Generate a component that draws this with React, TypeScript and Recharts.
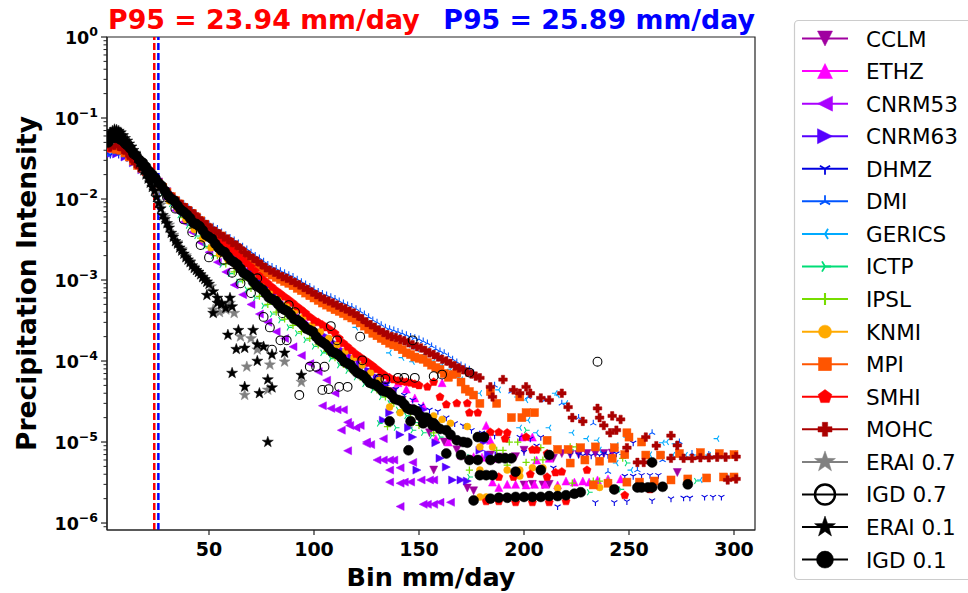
import React from 'react';
import { ScatterChart, Scatter, XAxis, YAxis, ReferenceLine, ReferenceArea } from 'recharts';

type Pt = [number, number];
type Kind = 'v' | '^' | '<' | '>' | '1' | '2' | '3' | '4' | '+' | 'o' | 's' | 'p' | 'P' | '*' | 'O';

const xTicks = [50, 100, 150, 200, 250, 300];
const yMajor = [1e-6, 1e-5, 1e-4, 1e-3, 1e-2, 1e-1, 1];
const yExpLabels = ['\u22126', '\u22125', '\u22124', '\u22123', '\u22122', '\u22121', '0'];
const yMinor = [9e-7].concat(
  [1e-6, 1e-5, 1e-4, 1e-3, 1e-2, 1e-1].flatMap((d) => [2, 3, 4, 5, 6, 7, 8, 9].map((m) => m * d))
);
const p95Values = [23.94, 25.89];
const p95Colors = ['#ff0000', '#0000ff'];

const CCLM: Pt[] = [[2,4.5e-2],[6,5.0e-2],[10,4.3e-2],[14,3.3e-2],[18,2.6e-2],[22,2.1e-2],[26,1.62e-2],[30,1.23e-2],[34,9.3e-3],[38,7.2e-3],[42,5.6e-3],[46,4.4e-3],[50,3.5e-3],[54,2.75e-3],[58,2.2e-3],[62,1.74e-3],[66,1.38e-3],[70,1.1e-3],[74,8.7e-4],[78,6.9e-4],[82,5.6e-4],[86,4.7e-4],[90,3.8e-4],[94,3.2e-4],[98,2.6e-4],[102,2.2e-4],[106,1.82e-4],[110,1.51e-4],[114,1.26e-4],[118,1.05e-4],[122,8.7e-5],[126,7.2e-5],[130,6.0e-5],[134,5.0e-5],[138,4.2e-5],[142,3.3e-5],[146,2.6e-5],[150,2.0e-5],[155,1.3e-5],[157,4.5e-6],[162,1.0e-5],[168,8.0e-6],[173,2.7e-6],[176,2.5e-6],[184,6.9e-6],[190,6.5e-6],[196,6.6e-6],[200,2.95e-6],[204,3.0e-6],[209,2.95e-6],[212,3.0e-6],[200,7.9e-6],[214,6.3e-6],[218,7.2e-6],[222,7.0e-6],[226,7.0e-6],[230,7.2e-6],[234,7.2e-6],[238,7.2e-6],[242,7.3e-6],[273,4.2e-6]];

const ETHZ: Pt[] = [[4,5.0e-2],[8,4.7e-2],[12,3.8e-2],[16,3.0e-2],[20,2.45e-2],[24,1.95e-2],[28,1.48e-2],[32,1.1e-2],[36,8.3e-3],[40,6.5e-3],[44,5.0e-3],[48,4.0e-3],[52,3.2e-3],[56,2.5e-3],[60,2.0e-3],[64,1.58e-3],[68,1.26e-3],[72,1.0e-3],[76,7.9e-4],[80,6.3e-4],[84,5.1e-4],[88,4.3e-4],[92,3.5e-4],[96,3.0e-4],[100,2.5e-4],[104,2.1e-4],[108,1.74e-4],[112,1.48e-4],[116,1.26e-4],[120,1.1e-4],[124,9.5e-5],[128,8.3e-5],[132,7.2e-5],[136,6.3e-5],[140,5.4e-5],[144,4.5e-5],[148,3.5e-5],[152,2.8e-5],[156,2.0e-5],[158,1.1e-5],[161,5.4e-5],[164,1.0e-5],[166,1.15e-5],[170,6.9e-6],[176,6.6e-6],[180,6.5e-6],[184,1.05e-5],[187,6.3e-6],[182,1.6e-5],[199,1.15e-5],[204,1.15e-5],[206,6.0e-6],[212,6.3e-6],[185,3.2e-6],[188,2.75e-6],[192,3.0e-6],[196,3.0e-6],[201,2.95e-6],[205,3.0e-6],[210,3.0e-6],[216,2.95e-6],[220,3.3e-6],[224,3.2e-6],[228,3.3e-6],[231,3.2e-6],[235,3.4e-6],[240,3.5e-6],[246,3.5e-6]];

const CNRM53: Pt[] = [[2,4.2e-2],[6,4.4e-2],[10,3.7e-2],[14,3.0e-2],[18,2.3e-2],[22,1.78e-2],[26,1.35e-2],[30,1.0e-2],[34,7.2e-3],[38,5.2e-3],[42,3.9e-3],[46,2.9e-3],[50,2.2e-3],[54,1.66e-3],[58,1.26e-3],[62,8.7e-4],[66,6.6e-4],[70,5.0e-4],[74,3.8e-4],[78,3.0e-4],[82,2.3e-4],[86,1.9e-4],[90,1.5e-4],[94,1.17e-4],[98,9.3e-5],[102,7.4e-5],[106,5.8e-5],[110,4.0e-5],[114,2.5e-5],[104,2.8e-5],[108,2.6e-5],[111,2.5e-5],[116,1.75e-5],[117,1.6e-5],[120,1.5e-5],[122,1.6e-5],[113,1.4e-5],[116,7.8e-6],[125,9.5e-6],[127,9.3e-6],[130,6.0e-6],[133,6.0e-6],[136,6.0e-6],[138,6.0e-6],[136,4.5e-6],[141,4.8e-6],[147,5.6e-6],[136,3.2e-6],[141,3.1e-6],[143,3.2e-6],[146,3.2e-6],[151,3.4e-6],[155,3.4e-6],[157,3.4e-6],[141,1.6e-6],[152,1.7e-6],[154,1.7e-6],[157,1.7e-6],[160,1.8e-6],[165,1.8e-6],[125,1.0e-5],[133,1.1e-5]];

const CNRM63: Pt[] = [[2,3.5e-2],[6,3.6e-2],[10,3.3e-2],[14,2.8e-2],[18,2.3e-2],[22,2.0e-2],[26,1.58e-2],[30,1.2e-2],[34,9.3e-3],[38,7.4e-3],[42,5.9e-3],[46,4.8e-3],[50,3.9e-3],[54,3.2e-3],[58,2.6e-3],[62,2.1e-3],[66,1.7e-3],[70,1.32e-3],[74,1.0e-3],[78,7.9e-4],[82,6.3e-4],[86,5.0e-4],[90,4.0e-4],[94,3.3e-4],[98,2.75e-4],[102,2.3e-4],[106,2.0e-4],[110,1.66e-4],[114,1.32e-4],[118,1.1e-4],[122,9.1e-5],[126,7.6e-5],[130,6.3e-5],[134,5.0e-5],[138,3.5e-5],[133,1.86e-5],[136,2.3e-5],[141,1.23e-5],[147,1.15e-5],[149,4.5e-6],[152,2.5e-5],[158,9.8e-6],[160,6.3e-6],[163,4.9e-6],[166,3.4e-6],[170,3.4e-6],[173,3.3e-6],[179,7.9e-6],[183,7.0e-6],[188,6.8e-6],[192,6.5e-6],[181,1.0e-5],[145,1.5e-5],[155,1.8e-5]];

const DHMZ: Pt[] = [[3,3.5e-2],[7,3.5e-2],[11,3.2e-2],[15,2.6e-2],[19,2.2e-2],[23,1.86e-2],[27,1.48e-2],[31,1.12e-2],[35,8.9e-3],[39,7.1e-3],[43,5.6e-3],[47,4.6e-3],[51,3.7e-3],[55,3.0e-3],[59,2.5e-3],[63,2.0e-3],[67,1.62e-3],[71,1.26e-3],[75,9.5e-4],[79,7.6e-4],[83,6.0e-4],[87,4.8e-4],[91,3.8e-4],[95,3.2e-4],[99,2.6e-4],[103,2.2e-4],[107,1.9e-4],[111,1.58e-4],[115,1.26e-4],[119,1.07e-4],[123,8.9e-5],[127,7.6e-5],[131,6.3e-5],[135,5.2e-5],[139,4.5e-5],[143,3.8e-5],[147,3.3e-5],[151,2.8e-5],[155,2.5e-5],[159,2.4e-5],[163,2.0e-5],[167,1.7e-5],[171,1.6e-5],[175,1.4e-5],[180,1.3e-5],[186,1.2e-5],[192,1.1e-5],[198,1.15e-5],[203,1.1e-5],[206,9.0e-6],[208,1.15e-5],[214,4.8e-6],[216,1.6e-6],[222,7.0e-6],[226,7.0e-6],[228,6.8e-6],[232,6.8e-6],[236,6.8e-6],[240,6.9e-6],[234,1.8e-6],[238,7.2e-6],[243,1.8e-6],[244,7.2e-6],[249,1.85e-6],[252,9.8e-6],[248,3.8e-6],[252,3.8e-6],[256,3.9e-6],[260,3.9e-6],[264,3.9e-6],[261,1.9e-6],[270,2.0e-6],[276,2.05e-6],[279,2.05e-6],[286,2.1e-6],[290,2.1e-6],[294,2.1e-6],[200,7.5e-6]];

const DMI: Pt[] = [[2,3.5e-2],[6,3.8e-2],[10,3.4e-2],[14,2.9e-2],[18,2.4e-2],[22,2.0e-2],[26,1.6e-2],[30,1.26e-2],[34,1.02e-2],[38,8.7e-3],[42,7.2e-3],[46,5.9e-3],[50,4.9e-3],[54,4.3e-3],[58,3.6e-3],[62,3.1e-3],[66,2.6e-3],[70,2.2e-3],[74,1.86e-3],[78,1.55e-3],[82,1.38e-3],[86,1.23e-3],[90,1.1e-3],[94,9.5e-4],[98,8.3e-4],[102,7.2e-4],[106,6.5e-4],[110,5.9e-4],[114,5.2e-4],[118,4.7e-4],[122,4.1e-4],[126,3.5e-4],[130,3.0e-4],[134,2.6e-4],[138,2.4e-4],[142,2.2e-4],[146,2.0e-4],[150,1.86e-4],[154,1.66e-4],[158,1.41e-4],[162,1.26e-4],[166,1.05e-4],[170,8.9e-5],[174,7.9e-5],[178,6.3e-5],[186,5.0e-5],[194,4.2e-5],[202,3.6e-5],[210,3.3e-5],[218,3.0e-5],[226,2.0e-5],[233,1.7e-5],[240,4.3e-6],[254,4.5e-6],[261,1.3e-5],[266,6.0e-6],[274,1.0e-5],[280,7.2e-6],[288,7.0e-6],[292,7.0e-6],[297,3.6e-6]];
const DMI_MID: Pt[] = [[4,3.7e-2],[8,3.6e-2],[12,3.1e-2],[16,2.65e-2],[20,2.2e-2],[24,1.8e-2],[28,1.42e-2],[32,1.13e-2],[36,9.4e-3],[40,7.9e-3],[44,6.5e-3],[48,5.4e-3],[52,4.6e-3],[56,3.9e-3],[60,3.35e-3],[64,2.85e-3],[68,2.4e-3],[72,2.0e-3],[76,1.7e-3],[80,1.46e-3],[84,1.3e-3],[88,1.16e-3],[92,1.02e-3],[96,8.9e-4],[100,7.7e-4],[104,6.8e-4],[108,6.2e-4],[112,5.5e-4],[116,4.9e-4],[120,4.4e-4],[124,3.8e-4],[128,3.2e-4],[132,2.8e-4],[136,2.5e-4],[140,2.3e-4],[144,2.1e-4],[148,1.93e-4],[152,1.76e-4],[156,1.53e-4],[160,1.33e-4],[164,1.15e-4],[168,9.7e-5],[172,8.4e-5],[176,7.1e-5]];

const GERICS: Pt[] = [[5,4.4e-2],[9,4.0e-2],[13,3.2e-2],[17,2.5e-2],[21,2.1e-2],[25,1.7e-2],[29,1.32e-2],[33,1.05e-2],[37,8.5e-3],[41,7.1e-3],[45,5.9e-3],[49,4.8e-3],[53,4.0e-3],[57,3.4e-3],[61,2.8e-3],[65,2.4e-3],[69,2.0e-3],[73,1.66e-3],[77,1.38e-3],[81,1.2e-3],[85,1.07e-3],[89,9.5e-4],[93,8.3e-4],[97,7.4e-4],[101,6.3e-4],[105,5.6e-4],[109,5.0e-4],[113,4.5e-4],[117,4.0e-4],[121,3.5e-4],[125,3.0e-4],[129,2.6e-4],[133,2.2e-4],[137,2.0e-4],[141,1.78e-4],[145,1.58e-4],[149,1.41e-4],[153,1.2e-4],[157,1.0e-4],[161,8.9e-5],[165,7.9e-5],[169,6.3e-5],[120,2.6e-4],[130,1.9e-4],[136,1.26e-4],[142,1.1e-4],[147,9.8e-5],[154,9.5e-5],[170,5.9e-5],[178,6.2e-5],[179,4.0e-5],[188,4.4e-5],[197,3.6e-5],[201,3.3e-5],[198,1.5e-5],[202,1.86e-5],[206,1.3e-5],[212,1.5e-5],[215,4.0e-5],[216,3.8e-5],[220,3.0e-5],[223,1.3e-5],[230,1.1e-5],[235,1.05e-5],[236,8.0e-6],[244,9.1e-6],[244,5.5e-6],[247,7.0e-6],[249,1.15e-5],[251,4.5e-6],[260,7.0e-6],[266,9.8e-6],[268,1.0e-5],[266,6.9e-6],[271,6.9e-6],[272,9.5e-6],[277,6.9e-6],[283,6.9e-6],[284,3.4e-6],[288,6.9e-6],[292,1.1e-5],[300,7.2e-6]];

const ICTP: Pt[] = [[4,5.5e-2],[8,5.0e-2],[12,4.0e-2],[16,3.0e-2],[20,2.2e-2],[24,1.66e-2],[28,1.2e-2],[32,8.7e-3],[36,6.3e-3],[40,4.7e-3],[44,3.5e-3],[48,2.6e-3],[52,2.0e-3],[56,1.55e-3],[60,1.2e-3],[64,9.5e-4],[68,7.6e-4],[72,6.0e-4],[76,4.8e-4],[80,3.8e-4],[84,3.2e-4],[88,2.6e-4],[92,2.2e-4],[96,1.82e-4],[100,1.51e-4],[104,1.26e-4],[108,1.07e-4],[112,8.9e-5],[116,7.6e-5],[120,6.3e-5],[124,5.2e-5],[128,4.4e-5],[132,3.6e-5],[136,3.0e-5],[140,2.5e-5],[144,2.1e-5],[148,1.74e-5],[131,1.7e-5],[139,1.5e-5],[147,1.4e-5],[152,1.3e-5],[156,1.2e-5],[160,1.15e-5],[173,9.8e-6],[174,6.5e-6],[174,3.7e-6],[201,1.4e-5],[222,8.0e-6],[231,2.4e-6],[246,2.6e-6],[249,5.5e-6],[282,3.3e-6]];

const IPSL: Pt[] = [[2,5.0e-2],[6,5.6e-2],[10,4.7e-2],[14,3.5e-2],[18,2.7e-2],[22,2.0e-2],[26,1.5e-2],[30,1.1e-2],[34,7.9e-3],[38,5.9e-3],[42,4.4e-3],[46,3.3e-3],[50,2.5e-3],[54,2.0e-3],[58,1.58e-3],[62,1.26e-3],[66,1.0e-3],[70,7.9e-4],[74,6.3e-4],[78,5.0e-4],[82,4.0e-4],[86,3.3e-4],[90,2.75e-4],[94,2.3e-4],[98,1.9e-4],[102,1.58e-4],[106,1.32e-4],[110,1.1e-4],[114,9.1e-5],[118,7.6e-5],[122,6.3e-5],[126,5.2e-5],[130,4.4e-5],[134,3.6e-5],[138,3.0e-5],[142,2.5e-5],[146,2.0e-5],[135,1.55e-5],[150,1.6e-5],[157,1.3e-5],[166,1.15e-5],[174,4.5e-6],[187,7.9e-6],[190,7.9e-6],[193,1.0e-5],[197,1.0e-5],[192,5.2e-6],[201,5.6e-6],[205,6.0e-6],[209,6.0e-6],[208,8.5e-6],[222,8.7e-6],[225,8.7e-6],[223,3.1e-6],[233,3.3e-6],[236,3.3e-6],[240,3.3e-6],[247,6.3e-6]];

const KNMI: Pt[] = [[3,5.4e-2],[7,5.2e-2],[11,4.4e-2],[15,3.3e-2],[19,2.5e-2],[23,1.86e-2],[27,1.35e-2],[31,9.5e-3],[35,7.6e-3],[39,5.6e-3],[43,4.2e-3],[47,3.2e-3],[51,2.5e-3],[55,2.1e-3],[59,1.78e-3],[63,1.48e-3],[67,1.23e-3],[71,1.02e-3],[75,8.7e-4],[79,7.2e-4],[83,6.0e-4],[87,5.0e-4],[91,4.2e-4],[95,3.5e-4],[99,2.75e-4],[103,2.3e-4],[107,1.9e-4],[111,1.58e-4],[115,1.32e-4],[119,1.1e-4],[123,8.9e-5],[127,7.2e-5],[131,5.8e-5],[135,4.4e-5],[139,3.3e-5],[143,2.8e-5],[147,2.5e-5],[136,2.7e-5],[141,2.3e-5],[150,2.1e-5],[157,2.1e-5],[161,1.9e-5],[165,1.7e-5],[173,1.55e-5],[179,8.7e-6],[185,8.7e-6],[179,4.5e-6],[192,4.5e-6],[198,4.5e-6],[204,4.8e-6],[209,4.8e-6],[198,3.8e-6],[216,2.7e-6],[236,2.75e-6],[179,2.1e-6],[182,2.1e-6]];

const MPI: Pt[] = [[4,4.2e-2],[8,4.0e-2],[12,3.3e-2],[16,2.6e-2],[20,2.2e-2],[24,1.78e-2],[28,1.38e-2],[32,1.07e-2],[36,8.7e-3],[40,7.2e-3],[44,6.0e-3],[48,4.9e-3],[52,4.0e-3],[56,3.5e-3],[60,2.9e-3],[64,2.4e-3],[68,2.0e-3],[72,1.62e-3],[76,1.32e-3],[80,1.15e-3],[84,1.02e-3],[88,9.1e-4],[92,7.9e-4],[96,6.9e-4],[100,6.0e-4],[104,5.2e-4],[108,4.6e-4],[112,4.1e-4],[116,3.6e-4],[120,3.2e-4],[124,2.7e-4],[128,2.2e-4],[132,1.9e-4],[136,1.66e-4],[140,1.5e-4],[144,1.26e-4],[148,1.12e-4],[152,1.05e-4],[156,8.9e-5],[160,7.9e-5],[164,6.3e-5],[168,7.1e-5],[172,4.5e-5],[176,3.8e-5],[179,3.0e-5],[184,4.2e-5],[187,3.0e-5],[194,2.0e-5],[198,3.6e-5],[199,2.0e-5],[201,2.3e-5],[205,2.3e-5],[211,1.05e-5],[216,8.1e-6],[221,8.1e-6],[222,5.5e-6],[227,8.5e-6],[229,6.0e-6],[234,8.7e-6],[236,5.8e-6],[242,6.3e-6],[243,8.5e-6],[248,7.0e-6],[249,1.3e-5],[250,1.15e-5],[256,1.0e-5],[258,6.9e-6],[265,6.9e-6],[274,7.2e-6],[284,7.4e-6],[293,7.2e-6],[300,7.0e-6],[233,2.95e-6],[240,3.1e-6],[249,3.2e-6],[255,3.2e-6],[262,3.3e-6],[270,3.4e-6],[278,3.5e-6],[287,3.6e-6],[295,3.7e-6],[300,3.7e-6]];
const MPI_MID: Pt[] = [[6,4.1e-2],[10,3.7e-2],[14,2.95e-2],[18,2.4e-2],[22,2.0e-2],[26,1.55e-2],[30,1.2e-2],[34,9.6e-3],[38,7.9e-3],[42,6.6e-3],[46,5.4e-3],[50,4.4e-3],[54,3.7e-3],[58,3.2e-3],[62,2.65e-3],[66,2.2e-3],[70,1.8e-3],[74,1.46e-3],[78,1.22e-3],[82,1.08e-3],[86,9.6e-4],[90,8.5e-4],[94,7.4e-4],[98,6.4e-4],[102,5.6e-4],[106,4.9e-4],[110,4.3e-4],[114,3.85e-4],[118,3.4e-4],[122,2.95e-4],[126,2.45e-4],[130,2.05e-4],[134,1.78e-4],[138,1.58e-4],[142,1.38e-4],[146,1.2e-4],[150,1.08e-4],[154,9.6e-5],[158,8.3e-5],[162,7.0e-5],[166,6.8e-5],[170,5.5e-5],[174,4.2e-5]];

const SMHI: Pt[] = [[2,4.2e-2],[6,4.7e-2],[10,4.0e-2],[14,3.0e-2],[18,2.4e-2],[22,1.95e-2],[26,1.55e-2],[30,1.17e-2],[34,9.3e-3],[38,7.6e-3],[42,6.0e-3],[46,4.9e-3],[50,3.9e-3],[54,3.2e-3],[58,2.7e-3],[62,2.2e-3],[66,1.78e-3],[70,1.45e-3],[74,1.12e-3],[78,9.1e-4],[82,7.4e-4],[86,6.2e-4],[90,5.2e-4],[94,4.3e-4],[98,3.5e-4],[102,3.0e-4],[106,2.6e-4],[110,2.2e-4],[114,1.66e-4],[118,1.35e-4],[122,1.12e-4],[126,9.5e-5],[130,7.9e-5],[134,6.6e-5],[138,5.9e-5],[142,5.6e-5],[146,5.4e-5],[150,5.0e-5],[154,4.8e-5],[157,5.5e-5],[160,3.6e-5],[163,2.9e-5],[168,3.0e-5],[173,3.0e-5],[174,2.3e-5],[178,2.3e-5],[184,1.32e-5],[188,1.32e-5],[192,1.3e-5],[191,1.1e-5],[201,1.15e-5],[204,8.0e-6],[206,8.0e-6],[211,7.2e-6],[188,3.7e-6],[195,3.7e-6],[203,4.0e-6],[211,3.7e-6],[215,4.2e-6],[218,4.3e-6],[230,4.5e-6],[176,1.9e-6],[182,1.85e-6],[188,1.85e-6],[196,1.8e-6],[204,1.8e-6],[212,1.8e-6],[220,1.85e-6],[260,2.6e-6],[248,2.2e-6]];
const SMHI_MID: Pt[] = [[4,4.5e-2],[8,4.4e-2],[12,3.5e-2],[16,2.7e-2],[20,2.15e-2],[24,1.75e-2],[28,1.35e-2],[32,1.05e-2],[36,8.4e-3],[40,6.8e-3],[44,5.4e-3],[48,4.4e-3],[52,3.5e-3],[56,2.95e-3],[60,2.45e-3],[64,2.0e-3],[68,1.6e-3],[72,1.28e-3],[76,1.0e-3],[80,8.2e-4],[84,6.8e-4],[88,5.7e-4],[92,4.7e-4],[96,3.9e-4],[100,3.2e-4],[104,2.8e-4],[108,2.4e-4],[112,1.9e-4],[116,1.5e-4],[120,1.22e-4],[124,1.03e-4],[128,8.7e-5],[132,7.2e-5],[136,6.2e-5],[140,5.7e-5],[144,5.5e-5],[148,5.2e-5]];

const MOHC: Pt[] = [[3,4.4e-2],[7,4.5e-2],[11,3.7e-2],[15,2.75e-2],[19,2.2e-2],[23,1.86e-2],[27,1.48e-2],[31,1.15e-2],[35,9.3e-3],[39,7.8e-3],[43,6.5e-3],[47,5.2e-3],[51,4.3e-3],[55,3.7e-3],[59,3.2e-3],[63,2.7e-3],[67,2.2e-3],[71,1.86e-3],[75,1.55e-3],[79,1.32e-3],[83,1.17e-3],[87,1.05e-3],[91,9.3e-4],[95,8.1e-4],[99,7.1e-4],[103,6.2e-4],[107,5.5e-4],[111,4.9e-4],[115,4.4e-4],[119,3.9e-4],[123,3.3e-4],[127,2.8e-4],[131,2.4e-4],[135,2.1e-4],[139,1.95e-4],[143,1.78e-4],[147,1.58e-4],[151,1.45e-4],[155,1.26e-4],[159,1.12e-4],[163,1.0e-4],[167,8.7e-5],[171,7.8e-5],[175,6.9e-5],[179,6.2e-5],[184,4.8e-5],[185,3.6e-5],[190,5.9e-5],[195,4.4e-5],[198,4.0e-5],[201,4.8e-5],[203,4.0e-5],[208,3.5e-5],[212,3.3e-5],[218,4.0e-5],[221,2.7e-5],[223,2.0e-5],[228,1.8e-5],[235,2.6e-5],[236,2.0e-5],[238,1.6e-5],[241,1.3e-5],[242,2.1e-5],[244,1.4e-5],[246,1.9e-5],[249,8.5e-6],[254,5.6e-6],[257,5.6e-6],[258,1.15e-5],[263,9.0e-6],[270,1.2e-5],[270,6.3e-6],[273,9.1e-6],[276,6.3e-6],[280,6.3e-6],[284,6.4e-6],[288,6.4e-6],[292,6.5e-6],[296,6.5e-6],[301,6.6e-6],[297,3.4e-6],[301,3.5e-6]];
const MOHC_MID: Pt[] = [[5,4.6e-2],[9,4.1e-2],[13,3.2e-2],[17,2.45e-2],[21,2.0e-2],[25,1.65e-2],[29,1.3e-2],[33,1.03e-2],[37,8.5e-3],[41,7.1e-3],[45,5.8e-3],[49,4.8e-3],[53,4.0e-3],[57,3.4e-3],[61,2.9e-3],[65,2.45e-3],[69,2.0e-3],[73,1.7e-3],[77,1.42e-3],[81,1.25e-3],[85,1.1e-3],[89,9.9e-4],[93,8.7e-4],[97,7.6e-4],[101,6.6e-4],[105,5.8e-4],[109,5.2e-4],[113,4.6e-4],[117,4.1e-4],[121,3.6e-4],[125,3.0e-4],[129,2.6e-4],[133,2.25e-4],[137,2.0e-4],[141,1.85e-4],[145,1.68e-4],[149,1.5e-4],[153,1.35e-4],[157,1.2e-4],[161,1.05e-4],[165,9.3e-5],[169,8.2e-5],[173,7.3e-5],[177,6.5e-5]];

const ERAI07: Pt[] = [[3,5.5e-2],[5,6.3e-2],[7,6.5e-2],[9,6.0e-2],[11,5.2e-2],[13,4.4e-2],[15,3.7e-2],[17,3.0e-2],[19,2.4e-2],[21,1.9e-2],[23,1.5e-2],[25,1.2e-2],[27,8.5e-3],[29,6.0e-3],[31,4.8e-3],[33,3.6e-3],[35,2.9e-3],[37,2.4e-3],[39,2.0e-3],[41,1.7e-3],[43,1.45e-3],[45,1.26e-3],[47,1.1e-3],[49,9.5e-4],[51,8.3e-4],[52,4.3e-4],[55,4.0e-4],[58,4.3e-4],[62,3.9e-4],[67,3.8e-5],[68,8.5e-5],[73,1.38e-4],[78,4.4e-5],[79,9.0e-5],[86,9.8e-5],[94,5.5e-5],[65,2.0e-4],[70,1.9e-4],[60,5.2e-4]];

const IGD07: Pt[] = [[2,5.2e-2],[6,5.6e-2],[10,4.8e-2],[14,3.6e-2],[18,2.7e-2],[22,2.0e-2],[26,1.45e-2],[30,1.05e-2],[34,7.6e-3],[38,5.6e-3],[42,3.9e-3],[46,2.7e-3],[50,1.9e-3],[57,1.78e-3],[61,1.23e-3],[65,9.1e-4],[70,6.9e-4],[73,1.05e-3],[76,3.5e-4],[79,2.6e-4],[80,1.38e-4],[82,5.5e-4],[85,3.9e-4],[84,1.8e-4],[87,1.8e-4],[88,4.9e-4],[91,4.0e-4],[93,3.8e-5],[98,8.5e-5],[101,8.5e-5],[104,4.4e-5],[105,8.5e-5],[107,4.5e-5],[108,2.7e-4],[111,1.8e-4],[112,4.8e-5],[116,4.8e-5],[122,2.0e-4],[123,1.02e-4],[131,6.0e-5],[134,6.0e-5],[140,6.2e-5],[143,6.2e-5],[147,1.8e-4],[148,6.2e-5],[157,6.5e-5],[161,6.8e-5],[174,7.2e-5],[235,9.8e-5]];

const ERAI01: Pt[] = [[2,6.0e-2],[4,6.9e-2],[6,7.1e-2],[8,6.6e-2],[10,5.6e-2],[12,4.8e-2],[14,4.0e-2],[16,3.2e-2],[18,2.5e-2],[20,2.0e-2],[22,1.58e-2],[24,1.26e-2],[26,8.9e-3],[28,6.3e-3],[30,5.0e-3],[32,3.8e-3],[34,3.0e-3],[36,2.5e-3],[38,2.1e-3],[40,1.78e-3],[42,1.51e-3],[44,1.32e-3],[46,1.17e-3],[48,1.02e-3],[50,8.9e-4],[49,6.5e-4],[52,3.9e-4],[54,5.2e-4],[56,5.0e-4],[59,2.1e-4],[60,6.0e-4],[61,4.7e-4],[61,7.1e-5],[63,1.4e-4],[64,2.4e-4],[67,1.45e-4],[67,4.8e-5],[71,2.4e-4],[73,1.6e-4],[73,1.0e-4],[74,4.0e-5],[76,1.5e-4],[78,5.9e-5],[78,1.0e-5],[80,1.2e-4],[80,4.7e-5],[86,1.26e-4],[94,6.7e-5]];
const ERAI01_MID: Pt[] = [[3,6.6e-2],[5,7.2e-2],[7,6.9e-2],[9,6.1e-2],[11,5.2e-2],[13,4.4e-2],[15,3.6e-2],[17,2.8e-2],[19,2.25e-2],[21,1.78e-2],[23,1.4e-2],[25,1.05e-2],[27,7.6e-3],[29,5.6e-3],[31,4.4e-3],[33,3.4e-3],[35,2.8e-3],[37,2.3e-3],[39,1.9e-3],[41,1.65e-3],[43,1.4e-3],[45,1.25e-3],[47,1.08e-3],[49,9.5e-4],[52,7.2e-4],[54,6.0e-4],[56,5.2e-4],[58,4.5e-4]];

const IGD01: Pt[] = [[2,5.0e-2],[5,5.8e-2],[8,5.4e-2],[11,4.6e-2],[14,3.7e-2],[17,3.0e-2],[20,2.5e-2],[23,2.0e-2],[26,1.58e-2],[29,1.26e-2],[32,1.0e-2],[35,8.3e-3],[38,6.9e-3],[41,5.8e-3],[44,4.9e-3],[47,4.1e-3],[50,3.4e-3],[53,2.8e-3],[56,2.3e-3],[59,1.95e-3],[62,1.66e-3],[65,1.38e-3],[68,1.15e-3],[71,9.5e-4],[74,8.1e-4],[77,6.8e-4],[80,5.8e-4],[83,5.0e-4],[86,4.3e-4],[89,3.7e-4],[92,3.2e-4],[95,2.75e-4],[98,2.4e-4],[101,2.0e-4],[104,1.7e-4],[107,1.45e-4],[110,1.26e-4],[113,1.1e-4],[116,9.3e-5],[119,7.9e-5],[122,6.9e-5],[125,6.0e-5],[128,5.2e-5],[131,4.7e-5],[134,4.2e-5],[137,3.8e-5],[140,3.3e-5],[143,2.9e-5],[146,2.5e-5],[149,2.4e-5],[152,2.0e-5],[155,1.78e-5],[158,1.58e-5],[136,1.8e-5],[146,1.8e-5],[152,1.7e-5],[157,1.7e-5],[160,1.45e-5],[163,1.4e-5],[165,1.23e-5],[168,1.05e-5],[171,1.0e-5],[173,9.8e-6],[170,6.9e-6],[163,7.2e-6],[178,1.15e-5],[181,1.15e-5],[145,7.9e-6],[174,6.0e-6],[178,6.0e-6],[184,6.0e-6],[188,6.3e-6],[191,6.3e-6],[194,6.3e-6],[212,6.9e-6],[179,3.9e-6],[182,3.9e-6],[185,3.9e-6],[196,4.3e-6],[208,4.5e-6],[261,5.6e-6],[176,1.9e-6],[184,2.0e-6],[188,2.05e-6],[192,2.05e-6],[196,2.1e-6],[200,2.1e-6],[204,2.1e-6],[208,2.1e-6],[212,2.15e-6],[216,2.15e-6],[220,2.2e-6],[224,2.3e-6],[227,2.4e-6],[243,2.6e-6],[254,2.75e-6],[256,2.75e-6],[259,2.75e-6],[261,2.75e-6],[266,2.8e-6],[278,3.0e-6]];
const IGD01_MID: Pt[] = [[3.5,5.6e-2],[6.5,5.7e-2],[9.5,5.1e-2],[12.5,4.2e-2],[15.5,3.4e-2],[18.5,2.8e-2],[21.5,2.2e-2],[24.5,1.8e-2],[27.5,1.45e-2],[30.5,1.1e-2],[33.5,9.5e-3],[36.5,7.4e-3],[39.5,6.4e-3],[42.5,5.1e-3],[45.5,4.6e-3],[48.5,3.6e-3],[51.5,3.2e-3],[54.5,2.5e-3],[57.5,2.2e-3],[60.5,1.75e-3],[63.5,1.55e-3],[66.5,1.22e-3],[69.5,1.08e-3],[72.5,8.6e-4],[75.5,7.6e-4],[78.5,6.1e-4],[81.5,5.5e-4],[84.5,4.5e-4],[87.5,4.1e-4],[90.5,3.3e-4],[93.5,3.0e-4],[96.5,2.5e-4],[99.5,2.3e-4],[102.5,1.8e-4],[105.5,1.6e-4],[108.5,1.3e-4],[111.5,1.2e-4],[114.5,9.8e-5],[117.5,8.9e-5],[120.5,7.2e-5],[123.5,6.6e-5],[126.5,5.4e-5],[129.5,5.1e-5],[132.5,4.3e-5],[135.5,4.1e-5],[138.5,3.4e-5],[141.5,3.2e-5],[144.5,2.6e-5],[147.5,2.5e-5],[150.5,2.1e-5],[153.5,2.0e-5],[156.5,1.6e-5]];

const SERIES: { name: string; data: Pt[]; color: string; kind: Kind; r: number; lr: number }[] = [
  { name: 'CCLM', data: CCLM, color: '#a000a0', kind: 'v', r: 4, lr: 7.5 },
  { name: 'ETHZ', data: ETHZ, color: '#ff00ff', kind: '^', r: 4, lr: 7.5 },
  { name: 'CNRM53', data: CNRM53, color: '#aa00ff', kind: '<', r: 4, lr: 7.5 },
  { name: 'CNRM63', data: CNRM63, color: '#5500ff', kind: '>', r: 4, lr: 7.5 },
  { name: 'DHMZ', data: DHMZ, color: '#0000e0', kind: '1', r: 3.6, lr: 6 },
  { name: 'DMI', data: [...DMI, ...DMI_MID], color: '#0055ff', kind: '2', r: 3.6, lr: 6 },
  { name: 'GERICS', data: GERICS, color: '#00aaff', kind: '3', r: 3.6, lr: 6 },
  { name: 'ICTP', data: ICTP, color: '#00dd77', kind: '4', r: 3.6, lr: 6 },
  { name: 'IPSL', data: IPSL, color: '#77dd00', kind: '+', r: 3.6, lr: 6 },
  { name: 'KNMI', data: KNMI, color: '#ffaa00', kind: 'o', r: 3.5, lr: 6.5 },
  { name: 'MPI', data: [...MPI, ...MPI_MID], color: '#ff5500', kind: 's', r: 4, lr: 6.5 },
  { name: 'SMHI', data: [...SMHI, ...SMHI_MID], color: '#ff0000', kind: 'p', r: 4.3, lr: 7.2 },
  { name: 'MOHC', data: [...MOHC, ...MOHC_MID], color: '#aa0000', kind: 'P', r: 4.3, lr: 7 },
  { name: 'ERAI 0.7', data: ERAI07, color: '#808080', kind: '*', r: 5.8, lr: 11 },
  { name: 'IGD 0.7', data: IGD07, color: '#000000', kind: 'O', r: 4.4, lr: 10 },
  { name: 'ERAI 0.1', data: [...ERAI01, ...ERAI01_MID], color: '#000000', kind: '*', r: 5.8, lr: 11 },
  { name: 'IGD 0.1', data: [...IGD01, ...IGD01_MID], color: '#000000', kind: 'o', r: 5, lr: 8.5 },
];

const FONT = '"DejaVu Sans", sans-serif';

function Mark({ kind, cx, cy, r, color }: { kind: Kind; cx: number; cy: number; r: number; color: string }) {
  if (cx == null || cy == null) return null;
  const pts = (a: number[][]) => a.map(([dx, dy]) => `${cx + dx * r},${cy + dy * r}`).join(' ');
  const spokes = (a: number[][]) => (
    <path
      d={a.map(([dx, dy]) => `M${cx},${cy}L${cx + dx * r},${cy + dy * r}`).join('')}
      stroke={color}
      strokeWidth={r * 0.3}
      fill="none"
    />
  );
  const filled = { fill: color, stroke: color, strokeWidth: 0.5 };
  switch (kind) {
    case 'v':
      return <polygon points={pts([[-1, -1], [1, -1], [0, 1]])} {...filled} />;
    case '^':
      return <polygon points={pts([[-1, 1], [1, 1], [0, -1]])} {...filled} />;
    case '<':
      return <polygon points={pts([[1, -1], [1, 1], [-1, 0]])} {...filled} />;
    case '>':
      return <polygon points={pts([[-1, -1], [-1, 1], [1, 0]])} {...filled} />;
    case '1':
      return spokes([[0, 1], [-0.85, -0.5], [0.85, -0.5]]);
    case '2':
      return spokes([[0, -1], [-0.85, 0.5], [0.85, 0.5]]);
    case '3':
      return spokes([[-1, 0], [0.5, -0.85], [0.5, 0.85]]);
    case '4':
      return spokes([[1, 0], [-0.5, -0.85], [-0.5, 0.85]]);
    case '+':
      return (
        <path d={`M${cx - r},${cy}H${cx + r}M${cx},${cy - r}V${cy + r}`} stroke={color} strokeWidth={r * 0.35} fill="none" />
      );
    case 'o':
      return <circle cx={cx} cy={cy} r={r} {...filled} />;
    case 'O':
      return <circle cx={cx} cy={cy} r={r} fill="none" stroke={color} strokeWidth={r * 0.24} />;
    case 's':
      return <rect x={cx - r} y={cy - r} width={2 * r} height={2 * r} {...filled} />;
    case 'p': {
      const a = [0, 1, 2, 3, 4].map((i) => {
        const t = ((-90 + 72 * i) * Math.PI) / 180;
        return [Math.cos(t), Math.sin(t)];
      });
      return <polygon points={pts(a)} {...filled} />;
    }
    case 'P': {
      const w = 0.38;
      return (
        <polygon
          points={pts([[-w, -1], [w, -1], [w, -w], [1, -w], [1, w], [w, w], [w, 1], [-w, 1], [-w, w], [-1, w], [-1, -w], [-w, -w]])}
          {...filled}
        />
      );
    }
    case '*': {
      const a = Array.from({ length: 10 }, (_, i) => {
        const t = ((-90 + 36 * i) * Math.PI) / 180;
        const k = i % 2 === 0 ? 1 : 0.4;
        return [k * Math.cos(t), k * Math.sin(t)];
      });
      return <polygon points={pts(a)} {...filled} />;
    }
    default:
      return null;
  }
}

const YTick = (p: any) => {
  const { x, y, payload } = p;
  const i = yMajor.indexOf(payload.value);
  if (i < 0) return <line x1={x - 3.5} x2={x} y1={y} y2={y} stroke="#222" strokeWidth={1} />;
  return (
    <g>
      <line x1={x - 6} x2={x} y1={y} y2={y} stroke="#222" strokeWidth={1.2} />
      <text x={x - 9} y={y + 6.5} textAnchor="end" fontFamily={FONT} fontWeight="bold" fontSize={17.5} fill="#000">
        <tspan>10</tspan>
        <tspan dy={-8} fontSize={12.5}>{yExpLabels[i]}</tspan>
      </text>
    </g>
  );
};

const XTick = (p: any) => {
  const { x, y, payload } = p;
  return (
    <g>
      <line x1={x} x2={x} y1={y} y2={y + 5} stroke="#222" strokeWidth={1.2} />
      <text x={x} y={y + 26} textAnchor="middle" fontFamily={FONT} fontWeight="bold" fontSize={19} fill="#000">
        {payload.value}
      </text>
    </g>
  );
};

const LegendBox = () => (
  <g>
    <rect x={794.5} y={20.5} width={200} height={559} rx={4} fill="#fff" stroke="#cccccc" strokeWidth={1.2} />
    {SERIES.map((s, i) => {
      const cy = 38.5 + 32.57 * i;
      return (
        <g key={s.name}>
          <line x1={802} x2={848} y1={cy} y2={cy} stroke={s.color} strokeWidth={2} />
          <Mark kind={s.kind} cx={825} cy={cy} r={s.lr} color={s.color} />
          <text x={866} y={cy + 8} fontFamily={FONT} fontSize={21.5} fill="#000">
            {s.name}
          </text>
        </g>
      );
    })}
  </g>
);

export default function App() {
  return (
    <div style={{ position: 'absolute', left: 0, top: 0, width: 968, height: 593, overflow: 'hidden', background: '#fff' }}>
      <ScatterChart width={968} height={593} margin={{ top: 37, right: 213, bottom: 33, left: 47 }}>
        <XAxis
          type="number"
          dataKey="x"
          domain={[1.43, 310]}
          ticks={xTicks}
          interval={0}
          allowDataOverflow
          height={30}
          tickLine={false}
          tickSize={0}
          tickMargin={0}
          tick={XTick}
          axisLine={{ stroke: '#222', strokeWidth: 1.2 }}
        />
        <YAxis
          type="number"
          dataKey="y"
          scale="log"
          domain={[8.2e-7, 1]}
          ticks={[...yMinor, ...yMajor]}
          interval={0}
          allowDataOverflow
          width={60}
          tickLine={false}
          tickSize={0}
          tickMargin={0}
          tick={YTick}
          axisLine={{ stroke: '#222', strokeWidth: 1.2 }}
        />
        <ReferenceArea x1={1.43} x2={310} y1={8.2e-7} y2={1} fill="none" stroke="#222" strokeWidth={1.2} />
        {SERIES.map((s) => (
          <Scatter
            key={s.name}
            name={s.name}
            data={s.data.map(([x, y]) => ({ x, y }))}
            isAnimationActive={false}
            shape={(p: any) => <Mark kind={s.kind} cx={p.cx} cy={p.cy} r={s.r} color={s.color} />}
          />
        ))}
        {p95Values.map((v, i) => (
          <ReferenceLine key={v} x={v} stroke={p95Colors[i]} strokeWidth={2.5} strokeDasharray="7 3" />
        ))}
      </ScatterChart>
      <svg width={968} height={593} style={{ position: 'absolute', left: 0, top: 0, pointerEvents: 'none' }}>
        <text x={108} y={29} fill="#ff0000" fontFamily={FONT} fontWeight="bold" fontSize={26.8}>
          P95 = 23.94 mm/day
        </text>
        <text x={755} y={29} textAnchor="end" fill="#0000ff" fontFamily={FONT} fontWeight="bold" fontSize={26.8}>
          P95 = 25.89 mm/day
        </text>
        <text
          transform="translate(35.5,283.5) rotate(-90)"
          textAnchor="middle"
          fill="#000"
          fontFamily={FONT}
          fontWeight="bold"
          fontSize={26.5}
        >
          Precipitation Intensity
        </text>
        <text x={431} y={586} textAnchor="middle" fill="#000" fontFamily={FONT} fontWeight="bold" fontSize={25.5}>
          Bin mm/day
        </text>
        <LegendBox />
      </svg>
    </div>
  );
}
